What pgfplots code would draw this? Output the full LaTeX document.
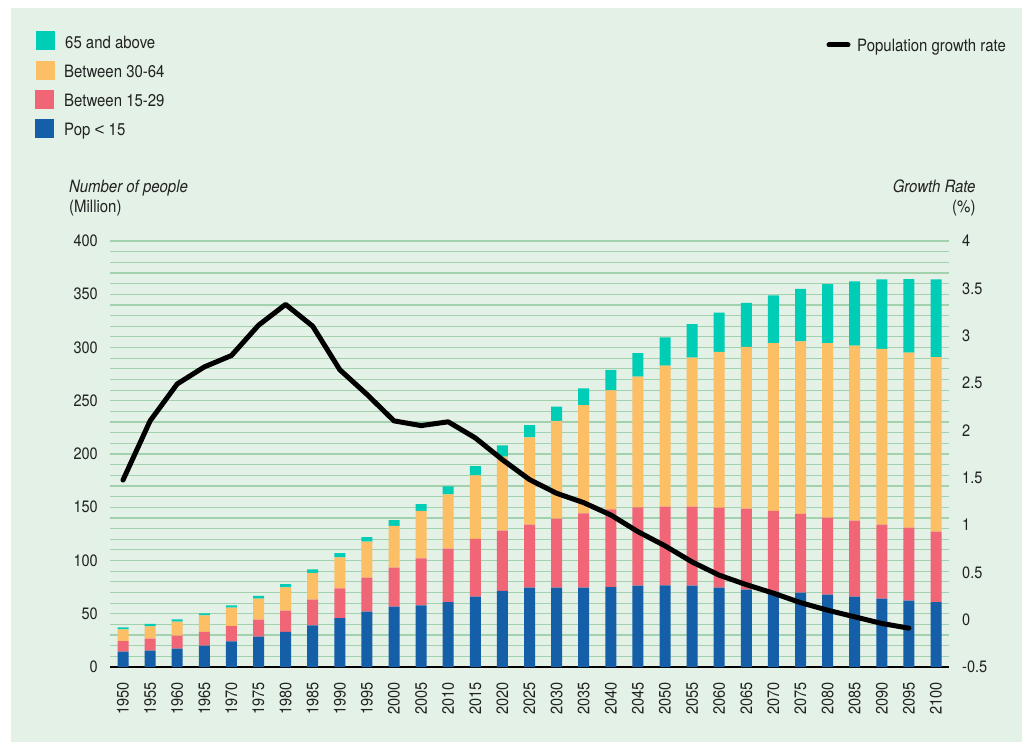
\documentclass[border=0pt]{standalone}
\usepackage{fontspec}
\setmainfont{TeX Gyre Heros}[FakeStretch=0.88]
\newfontfamily\libfont{Liberation Sans}
\usepackage{pgfplots}
\pgfplotsset{compat=1.18}
\usepackage{pgfplotstable}
\definecolor{bg}{HTML}{E3F1E6}
\definecolor{gridc}{HTML}{A2D1AE}
\definecolor{cteal}{HTML}{00CDB5}
\definecolor{corange}{HTML}{FDBF66}
\definecolor{cred}{HTML}{F06676}
\definecolor{cblue}{HTML}{155FA8}
\definecolor{txt}{HTML}{222222}

\pgfplotstableread{
year blue red orange teal
1950 14.4 10.0 11.0 1.8
1955 15.3 11.3 11.6 2.2
1960 17.2 12.2 13.1 2.3
1965 20.0 13.1 15.4 1.9
1970 24.1 14.4 17.2 2.2
1975 28.5 15.9 19.7 2.6
1980 33.1 19.8 21.9 3.1
1985 39.1 24.1 25.3 3.2
1990 46.0 27.9 29.1 4.0
1995 51.9 32.0 33.8 4.3
2000 56.6 36.8 39.0 5.6
2005 57.9 44.1 44.5 6.5
2010 61.0 50.1 51.1 7.5
2015 66.0 54.2 59.8 8.7
2020 71.4 56.6 69.5 10.7
2025 74.5 59.1 82.1 11.3
2030 74.5 64.8 91.7 13.4
2035 74.5 69.8 101.7 15.7
2040 75.1 72.9 111.8 19.1
2045 76.4 73.6 122.6 22.2
2050 76.7 73.8 132.6 26.5
2055 76.4 74.1 140.0 31.5
2060 74.5 75.1 146.4 36.7
2065 72.6 76.0 151.9 41.3
2070 70.7 75.8 157.7 44.8
2075 69.8 73.9 162.1 49.2
2080 67.9 72.3 164.0 55.4
2085 66.0 71.4 164.3 60.4
2090 64.1 69.5 165.0 65.4
2095 62.3 68.5 164.3 69.2
2100 61.0 66.0 164.0 73.0
}\pop

\pgfplotstableread{
year rate
1950 1.475
1955 2.10
1960 2.49
1965 2.67
1970 2.79
1975 3.11
1980 3.33
1985 3.10
1990 2.64
1995 2.38
2000 2.10
2005 2.05
2010 2.09
2015 1.92
2020 1.69
2025 1.48
2030 1.335
2035 1.236
2040 1.106
2045 0.93
2050 0.78
2055 0.61
2060 0.47
2065 0.37
2070 0.28
2075 0.18
2080 0.10
2085 0.03
2090 -0.04
2095 -0.09
}\growth

\begin{document}
\begin{tikzpicture}[font=\fontsize{17}{20}\selectfont, text=txt]
\fill[white] (-110pt,-75pt) rectangle (912pt,667pt);
\fill[bg] (-99pt,-75pt) rectangle (912pt,659pt);

\pgfplotsset{common/.style={
  at={(0pt,0pt)}, anchor=south west, scale only axis,
  width=839pt, height=426pt,
  xmin=1947.6, xmax=2102.4,
  major tick length=0pt, minor tick length=0pt,
  /pgf/number format/assume math mode=true,
  /pgf/number format/1000 sep={},
  ticklabel style={font=\fontsize{16.5}{18}\selectfont, text=txt},
}}

\begin{axis}[common,
  ymin=0, ymax=400,
  ybar stacked, bar width=11pt,
  axis x line*=bottom, axis y line*=left,
  y axis line style={draw=none},
  x axis line style={draw=black, line width=1.3pt, -},
  xtick={1950,1955,...,2100},
  minor xtick={},
  xticklabel style={rotate=90, anchor=east, inner sep=0pt},
  xticklabel shift=15pt,
  ytick={0,50,...,400},
  minor ytick={10,20,...,390},
  yticklabel style={anchor=east, inner sep=0pt},
  yticklabel shift=12pt,
  xmajorgrids=false, xminorgrids=false,
  ymajorgrids=true, yminorgrids=true,
  major grid style={draw=gridc, line width=1.4pt},
  minor grid style={draw=gridc, line width=1.2pt},
]
\addplot[fill=cblue, draw=none] table[x=year, y=blue] \pop;
\addplot[fill=cred, draw=none] table[x=year, y=red] \pop;
\addplot[fill=corange, draw=none] table[x=year, y=orange] \pop;
\addplot[fill=cteal, draw=none] table[x=year, y=teal] \pop;
\end{axis}

\begin{axis}[common,
  ymin=-0.5, ymax=4,
  axis x line=none, axis y line*=right,
  y axis line style={draw=none},
  xtick=\empty,
  ytick={-0.5,0,0.5,1,1.5,2,2.5,3,3.5,4},
  yticklabel style={anchor=west, inner sep=0pt},
  yticklabel shift=13pt,
]
\addplot[black, line width=5pt, line join=round, line cap=round, mark=none] table[x=year, y=rate] \growth;
\end{axis}

% legend (left)
\fill[cteal] (-73.5pt,617pt) rectangle (-54.5pt,636pt);
\fill[corange] (-74pt,587pt) rectangle (-55pt,606pt);
\fill[cred] (-75pt,558pt) rectangle (-56pt,577pt);
\fill[cblue] (-75pt,528.5pt) rectangle (-56pt,547.5pt);
\node[anchor=base west, inner sep=0pt] at (-45pt,618.7pt) {65 and above};
\node[anchor=base west, inner sep=0pt] at (-46pt,589.7pt) {Between 30-64};
\node[anchor=base west, inner sep=0pt] at (-46pt,560.3pt) {Between 15-29};
\node[anchor=base west, inner sep=0pt] at (-46pt,531pt) {Pop {\libfont <} 15};

% legend (right)
\draw[black, line width=5pt, line cap=round] (719pt,622pt) -- (738pt,622pt);
\node[anchor=base west, inner sep=0pt] at (747pt,615.3pt) {Population growth rate};

% axis titles
\node[anchor=base west, inner sep=0pt, font=\fontsize{17}{20}\selectfont\itshape] at (-41pt,474.3pt) {Number of people};
\node[anchor=base west, inner sep=0pt] at (-41pt,454pt) {(Million)};
\node[anchor=base east, inner sep=0pt, font=\fontsize{17}{20}\selectfont\itshape] at (865.7pt,474.3pt) {Growth Rate};
\node[anchor=base east, inner sep=0pt] at (865.7pt,454pt) {(\%)};

\pgfresetboundingbox
\path (-110pt,-75pt) rectangle (912pt,667pt);
\end{tikzpicture}
\end{document}
